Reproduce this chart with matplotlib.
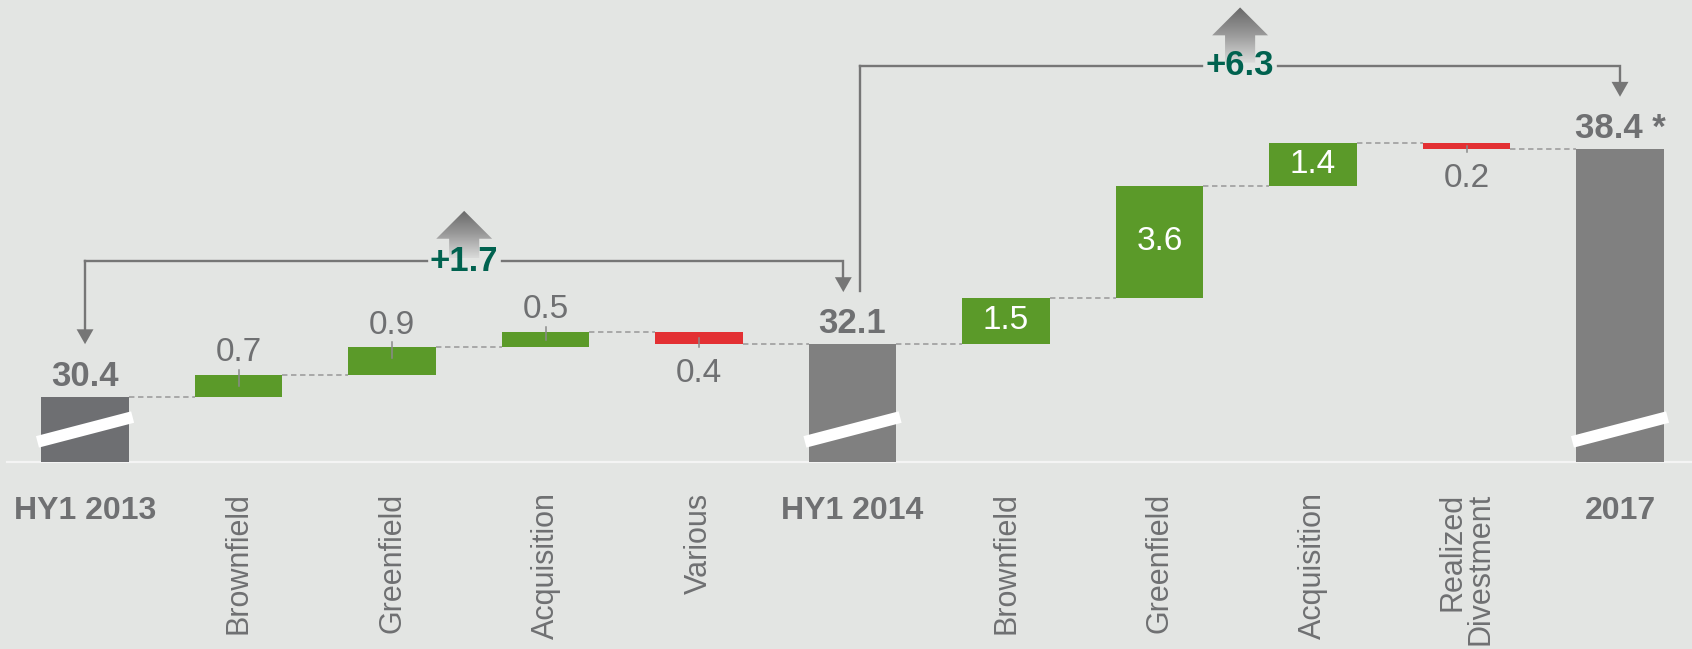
import numpy as np
import matplotlib.pyplot as plt
from matplotlib.patches import Polygon
from matplotlib.colors import LinearSegmentedColormap

plt.rcParams['font.family'] = ['Liberation Sans', 'DejaVu Sans']

categories = ['HY1 2013', 'Brownfield', 'Greenfield', 'Acquisition', 'Various',
              'HY1 2014', 'Brownfield', 'Greenfield', 'Acquisition',
              'Realized\nDivestment', '2017']
kinds = ['total', 'delta', 'delta', 'delta', 'delta',
         'total', 'delta', 'delta', 'delta', 'delta', 'total']
values = [30.4, 0.7, 0.9, 0.5, -0.4, 32.1, 1.5, 3.6, 1.4, -0.2, 38.4]
total_labels = ['30.4', '32.1', '38.4 *']
# (from index, to index, label)
brackets = [(0, 5, '+1.7'), (5, 10, '+6.3')]
arrow_heights = [1.62, 1.88]

bg = '#e3e5e3'
green = '#5b9a29'
red = '#e33033'
grey_txt = '#6f7072'
dark_green = '#00624f'
line_grey = '#767676'

floor = 28.3      # broken axis: bars start here
width = 0.57

fig = plt.figure(figsize=(16.92, 6.49), dpi=100, facecolor=bg)
ax = fig.add_axes([0, 0, 1, 1])
ax.set_facecolor(bg)

# baseline
ax.plot([-0.51, 10.47], [floor, floor], color='#f4f4f4', lw=1.6, zorder=1)

levels = []
level = None
tl = iter(total_labels)
for i, (kind, v) in enumerate(zip(kinds, values)):
    if kind == 'total':
        col = '#6e6f72' if i == 0 else '#808080'
        ax.bar(i, v - floor, bottom=floor, width=width, color=col, zorder=3)
        ax.plot([i - 0.31, i + 0.31], [floor + 0.65, floor + 1.45], color='white',
                lw=8.5, solid_capstyle='butt', zorder=4)
        ax.annotate(next(tl), (i, v), xytext=(0, 15), textcoords='offset points',
                    ha='center', va='center', fontsize=25, fontweight='bold',
                    color=grey_txt, zorder=5)
        level = v
    else:
        lo, hi = sorted([level, level + v])
        ax.bar(i, hi - lo, bottom=lo, width=width, color=green if v > 0 else red, zorder=3)
        txt = f'{abs(v):.1f}'
        h = hi - lo
        if abs(v) >= 1:
            ax.text(i, (lo + hi) / 2, txt, ha='center', va='center', fontsize=24,
                    color='white', zorder=5)
        elif v > 0:
            ax.plot([i, i], [hi + 0.17, hi - min(0.35, h / 2)], color='#8a8a8a', lw=1.1, zorder=4)
            ax.annotate(txt, (i, hi), xytext=(0, 16), textcoords='offset points',
                        ha='center', va='center', fontsize=24, color=grey_txt, zorder=5)
        else:
            ax.plot([i, i], [lo - 0.1, lo + min(0.3, h / 2)], color='#8a8a8a', lw=1.1, zorder=4)
            ax.annotate(txt, (i, lo), xytext=(0, -21), textcoords='offset points',
                        ha='center', va='center', fontsize=24, color=grey_txt, zorder=5)
        level = level + v
    levels.append(level)

# dashed connectors
for i in range(len(values) - 1):
    ax.plot([i + width / 2, i + 1 - width / 2], [levels[i], levels[i]], color='#a3a3a3',
            lw=1.3, dashes=(3, 2), zorder=2)

# category labels
for i, (kind, c) in enumerate(zip(kinds, categories)):
    if kind == 'total':
        ax.text(i, 26.72, c, ha='center', va='center', fontsize=23,
                fontweight='bold', color=grey_txt)
    else:
        ax.text(i, 27.32, c, ha='center', va='top', rotation=90, fontsize=22,
                color=grey_txt, multialignment='right', linespacing=0.95)

# brackets with growth labels
cmap = LinearSegmentedColormap.from_list('arr', ['#686868', '#9a9a9a', '#dadbda'])
grad = np.linspace(0, 1, 256).reshape(-1, 1)


def arrow_head(x, tip):
    tri = Polygon([[x - 0.055, tip + 0.48], [x + 0.055, tip + 0.48], [x, tip]],
                  closed=True, color=line_grey, lw=0, zorder=5)
    ax.add_patch(tri)


for n, (a, b, lab) in enumerate(brackets):
    xa = a if n == 0 else a + 0.05
    xb = b - 0.06 if n == 0 else b
    tip_a = values[a] + 1.7
    tip_b = values[b] + 1.68
    top = max(tip_a, tip_b) + 1.0
    mid = (xa + xb) / 2
    gap = 0.245
    lw = 1.7
    if n == 0:
        ax.plot([xa, xa], [tip_a + 0.45, top], color=line_grey, lw=lw, zorder=5)
        arrow_head(xa, tip_a)
    else:
        ax.plot([xa, xa], [tip_a, top], color=line_grey, lw=lw, zorder=5)
    ax.plot([xa, xa, mid - gap], [top, top, top], color=line_grey, lw=lw, zorder=5,
            solid_joinstyle='miter')
    ax.plot([mid + gap, xb, xb], [top, top, tip_b + 0.45], color=line_grey, lw=lw,
            zorder=5, solid_joinstyle='miter')
    arrow_head(xb, tip_b)

    # gradient up arrow
    at = top + arrow_heights[n]
    ab = top + 0.1
    hb = at - 0.9
    poly = Polygon([[mid - 0.098, ab], [mid - 0.098, hb], [mid - 0.182, hb], [mid, at],
                    [mid + 0.182, hb], [mid + 0.098, hb], [mid + 0.098, ab]],
                   closed=True, facecolor='none', edgecolor='none')
    ax.add_patch(poly)
    im = ax.imshow(grad, cmap=cmap, extent=[mid - 0.2, mid + 0.2, ab, at],
                   aspect='auto', origin='upper', zorder=4)
    im.set_clip_path(poly)
    ax.text(mid, top, lab, ha='center', va='center', fontsize=25, fontweight='bold',
            color=dark_green, zorder=6)

ax.set_xlim(-0.554, 10.469)
ax.set_ylim(22.27, 43.2)
ax.axis('off')

fig.savefig('out.png', dpi=100, facecolor=bg)
